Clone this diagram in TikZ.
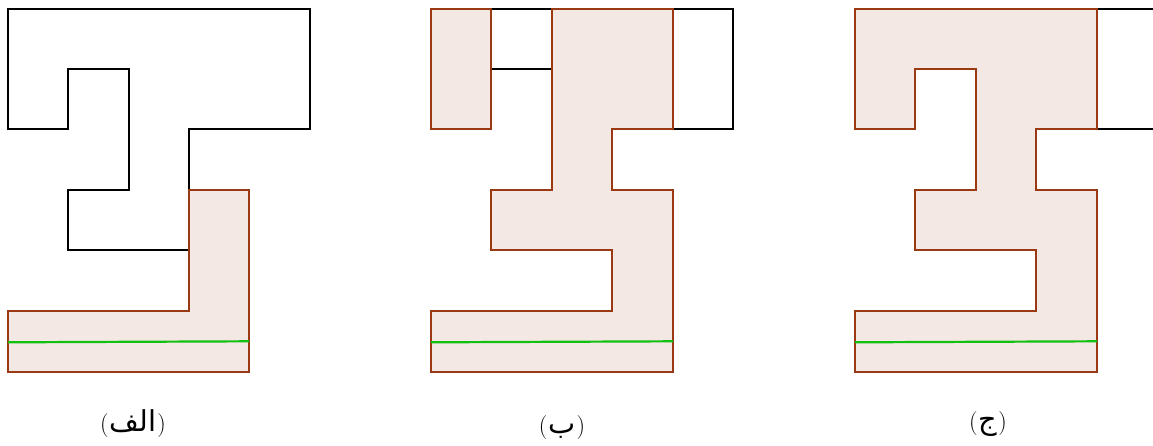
\documentclass[tikz,border=0pt]{standalone}
\usepackage{fontspec}
\newfontfamily\arabicfont[Script=Arabic,Scale=1.2]{DejaVu Sans}
\TeXXeTstate=1
\definecolor{edgebrown}{HTML}{9A3A12}
\definecolor{fillpink}{HTML}{F4E8E4}
\definecolor{lgreen}{HTML}{12C012}
\newcommand{\arlab}[1]{\rmfamily(\kern1pt{\arabicfont\beginR #1\endR}\kern1pt\rmfamily)}
\tikzset{
  outl/.style={draw=black, line width=2pt, line join=miter},
  piece/.style={draw=edgebrown, fill=fillpink, line width=2pt, line join=miter},
  cut/.style={draw=lgreen, line width=2.2pt},
  lab/.style={font=\fontsize{24}{28}\selectfont, inner sep=0pt}
}
\begin{document}
\begin{tikzpicture}[x=1pt,y=-1pt]
\useasboundingbox (0,0) rectangle (1153,445);
% ---------- panel (a)
\draw[outl] (8,9) -- (310,9) -- (310,129) -- (189,129) -- (189,250) -- (68,250) -- (68,190) -- (129,190) -- (129,69) -- (68,69) -- (68,129) -- (8,129) -- cycle;
\draw[piece] (189,190) -- (249,190) -- (249,372) -- (8,372) -- (8,311) -- (189,311) -- cycle;
\coordinate (a1) at (8,342.3);
\coordinate (a2) at (249,341.3);
\draw[cut] (a1) -- (a2);
\node[lab] (la) at (133,424) {\arlab{الف}};
% ---------- panel (b)
\draw[outl] (491,9) -- (552,9);
\draw[outl] (491,69) -- (552,69);
\draw[outl] (673,9) -- (733,9) -- (733,129) -- (673,129);
\draw[piece] (431,9) rectangle (491,129);
\draw[piece] (552,9) -- (673,9) -- (673,129) -- (612,129) -- (612,190) -- (673,190) -- (673,372) -- (431,372) -- (431,311) -- (612,311) -- (612,250) -- (491,250) -- (491,190) -- (552,190) -- cycle;
\coordinate (b1) at (431,342.3);
\coordinate (b2) at (673,341.3);
\draw[cut] (b1) -- (b2);
\node[lab] (lb) at (562,428) {\arlab{ب}};
% ---------- panel (c)
\draw[outl] (1097,9) -- (1155,9);
\draw[outl] (1097,129) -- (1155,129);
\draw[piece] (855,9) -- (1097,9) -- (1097,129) -- (1036,129) -- (1036,190) -- (1097,190) -- (1097,372) -- (855,372) -- (855,311) -- (1036,311) -- (1036,250) -- (915,250) -- (915,190) -- (976,190) -- (976,69) -- (915,69) -- (915,129) -- (855,129) -- cycle;
\coordinate (c1) at (855,342.3);
\coordinate (c2) at (1097,341.3);
\draw[cut] (c1) -- (c2);
\node[lab] (lc) at (988,424) {\arlab{ج}};
\end{tikzpicture}
\end{document}
